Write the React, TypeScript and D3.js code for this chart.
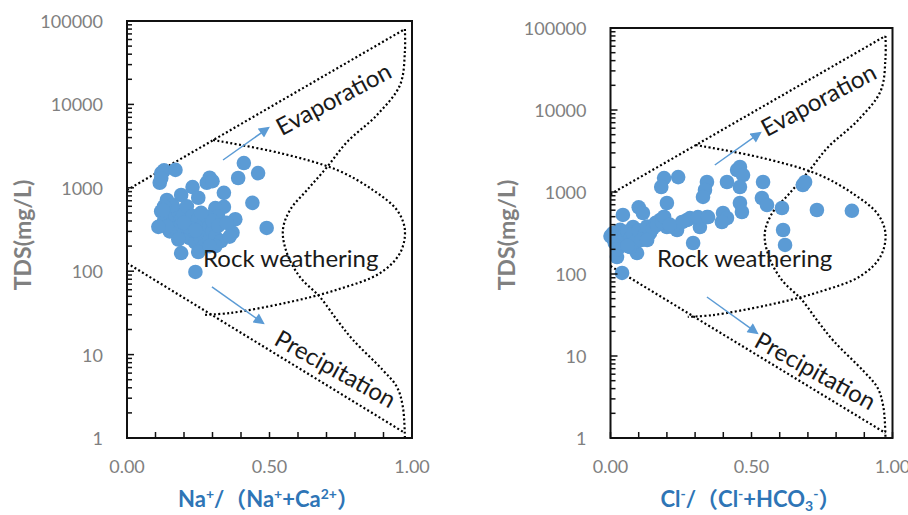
import * as d3 from "d3";

const W = 908;
const H = 515;

// Na+/(Na+ + Ca2+) panel samples
const naRatio = [
  0.12, 0.13, 0.17, 0.115, 0.12, 0.23, 0.29, 0.28, 0.3, 0.41, 0.46, 0.39, 0.34, 0.25,
  0.19, 0.14, 0.44, 0.49, 0.38, 0.37, 0.34, 0.31, 0.32, 0.12, 0.13, 0.12, 0.14, 0.15,
  0.16, 0.17, 0.17, 0.18, 0.18, 0.19, 0.19, 0.2, 0.2, 0.21, 0.21, 0.22, 0.22, 0.23,
  0.23, 0.24, 0.24, 0.25, 0.25, 0.26, 0.26, 0.27, 0.27, 0.28, 0.28, 0.29, 0.29, 0.3,
  0.3, 0.31, 0.32, 0.33, 0.31, 0.15, 0.16, 0.14, 0.13, 0.18, 0.22, 0.26, 0.2, 0.24,
  0.35, 0.36, 0.19, 0.25, 0.24, 0.29, 0.11, 0.126,
];
const naTds = [
  1500, 1620, 1640, 1150, 1300, 1020, 1320, 1150, 1200, 1980, 1500, 1310, 870, 760,
  820, 715, 660, 330, 420, 290, 590, 570, 450, 520, 400, 350, 450, 560,
  380, 330, 470, 300, 520, 420, 360, 280, 480, 340, 600, 400, 250, 310,
  460, 370, 220, 280, 420, 330, 240, 380, 200, 290, 450, 350, 240, 300,
  400, 260, 350, 230, 200, 300, 620, 340, 600, 240, 330, 500, 380, 310,
  380, 260, 165, 170, 98, 200, 340, 540,
];

// Cl-/(Cl- + HCO3-) panel samples
const clRatio = [
  0.19, 0.24, 0.18, 0.2, 0.1, 0.115, 0.044, 0.009, 0.034, 0.08, 0.105, 0.14, 0.176, 0.2,
  0.236, 0.271, 0.282, 0.342, 0.317, 0.293, 0.342, 0.335, 0.328, 0.413, 0.449, 0.459, 0.47,
  0.459, 0.459, 0.466, 0.399, 0.413, 0.395, 0.541, 0.537, 0.555, 0.608, 0.612, 0.619, 0.682,
  0.69, 0.732, 0.856, 0.023, 0.041, 0.094, 0.069, 0.005, 0.01, 0.015, 0.02, 0.03, 0.04,
  0.05, 0.06, 0.07, 0.08, 0.09, 0.1, 0.12, 0.13, 0.15, 0.16, 0.165, 0.183, 0.222, 0.254,
  0.31, 0.346, 0.0, 0.025, 0.11, 0.06, 0.19, 0.13, 0.21,
];
const clTds = [
  1480, 1520, 1150, 735, 650, 555, 525, 315, 345, 375, 283, 315, 456, 374,
  344, 456, 480, 495, 374, 239, 1324, 1057, 870, 1324, 1855, 2018, 1610,
  1150, 735, 570, 554, 482, 431, 1324, 845, 694, 638, 344, 226, 1217,
  1324, 603, 590, 161, 103, 180, 213, 300, 270, 240, 320, 280, 250,
  300, 330, 270, 310, 250, 340, 300, 380, 360, 420, 396, 430, 374, 431,
  495, 495, 290, 200, 260, 220, 500, 260, 400,
];

// Gibbs boundaries as [ratio, TDS]
const upperEdge = [[0, 940], [0.975, 80000]];
const lowerEdge = [[0, 125], [0.975, 1.15]];
const outerCurve = [
  [0.975, 80000], [0.975, 42500], [0.958, 17100], [0.877, 7460], [0.772, 3540],
  [0.702, 1775], [0.632, 941], [0.572, 542], [0.547, 312], [0.561, 165], [0.607, 85],
  [0.677, 49], [0.737, 26], [0.793, 15], [0.898, 6.5], [0.947, 4.1], [0.968, 2.35],
  [0.975, 1.03],
];
const innerCurve = [
  [0.302, 3740], [0.537, 2610], [0.737, 1635], [0.863, 940], [0.947, 542], [0.975, 312],
  [0.958, 165], [0.888, 95], [0.737, 60], [0.561, 42], [0.361, 31.5], [0.274, 30],
];

const yTicks = [1, 10, 100, 1000, 10000, 100000];
const xTicks = [0, 0.5, 1];

const BLUE = "#5b9bd5";
const GRAY = "#808080";
const FONT = "Lato, 'Noto Sans CJK SC', sans-serif";

type PanelProps = {
  ml: number;
  mr: number;
  mt: number;
  xs: number[];
  ys: number[];
  evapArrow: number[][];
  precArrow: number[][];
  evapAt: number[];
  rockAt: number[];
  precAt: number[];
  title: React.ReactNode;
};

function Panel({ ml, mr, mt, xs, ys, evapArrow, precArrow, evapAt, rockAt, precAt, title }: PanelProps) {
  const mb = 438;
  const x = d3.scaleLinear().domain([0, 1]).range([ml, mr]);
  const y = d3.scaleLog().domain([1, 100000]).range([mb, mt]);
  const line = d3.line<number[]>().x((d) => x(d[0])).y((d) => y(d[1]));
  const smooth = d3
    .line<number[]>()
    .x((d) => x(d[0]))
    .y((d) => y(d[1]))
    .curve(d3.curveCatmullRom.alpha(0.5));
  const minor: number[] = [];
  for (let e = 0; e < 5; e++) for (let k = 2; k < 10; k++) minor.push(k * 10 ** e);
  const fmt = d3.format(".2f");
  const dots = { fill: "none", stroke: "#000", strokeWidth: 2.2, strokeDasharray: "2 2.4" };

  return (
    <g fontFamily={FONT}>
      <path d={line(upperEdge) ?? ""} {...dots} />
      <path d={line(lowerEdge) ?? ""} {...dots} />
      <path d={smooth(outerCurve) ?? ""} {...dots} />
      <path d={smooth(innerCurve) ?? ""} {...dots} />

      {xs.map((v, i) => (
        <circle key={i} cx={x(v)} cy={y(ys[i])} r={7.3} fill={BLUE} />
      ))}

      <line x1={x(evapArrow[0][0])} y1={y(evapArrow[0][1])} x2={x(evapArrow[1][0])} y2={y(evapArrow[1][1])}
        stroke={BLUE} strokeWidth={1.5} markerEnd="url(#ah)" />
      <line x1={x(precArrow[0][0])} y1={y(precArrow[0][1])} x2={x(precArrow[1][0])} y2={y(precArrow[1][1])}
        stroke={BLUE} strokeWidth={1.5} markerEnd="url(#ah)" />

      <g fontSize={24} fill="#1a1a1a">
        <text transform={`translate(${x(evapAt[0])},${y(evapAt[1])}) rotate(-28)`} textAnchor="middle" dominantBaseline="central">
          Evaporation
        </text>
        <text x={x(rockAt[0])} y={y(rockAt[1])}>Rock weathering</text>
        <text transform={`translate(${x(precAt[0])},${y(precAt[1])}) rotate(29)`} textAnchor="middle" dominantBaseline="central">
          Precipitation
        </text>
      </g>

      <rect x={ml} y={mt} width={mr - ml} height={mb - mt} fill="none" stroke="#111" strokeWidth={2} />
      <g stroke="#111" strokeWidth={1.5}>
        {d3.range(0, 1.0001, 0.1).map((t, i) => (
          <line key={i} x1={x(t)} x2={x(t)} y1={mb} y2={mb - 6} />
        ))}
        {yTicks.map((t) => (
          <line key={t} x1={ml} x2={ml + 7} y1={y(t)} y2={y(t)} />
        ))}
        {minor.map((t) => (
          <line key={t} x1={ml} x2={ml + 5} y1={y(t)} y2={y(t)} />
        ))}
      </g>

      <g fill={GRAY} fontSize={18}>
        {yTicks.map((t) => (
          <text key={t} x={ml - 24} y={y(t)} textAnchor="end" dominantBaseline="central">
            {t}
          </text>
        ))}
        {xTicks.map((t) => (
          <text key={t} x={x(t)} y={473} textAnchor="middle">
            {fmt(t)}
          </text>
        ))}
      </g>

      <text transform={`translate(${ml - 105},235) rotate(-90)`} textAnchor="middle" dominantBaseline="central"
        fontSize={23} fontWeight="bold" fill={GRAY}>
        TDS(mg/L)
      </text>
      <text x={(ml + mr) / 2 - 1} y={507} textAnchor="middle" fontSize={22} fontWeight="bold" fill="#2e75b6">
        {title}
      </text>
    </g>
  );
}

export default function App() {
  return (
    <svg width={W} height={H} style={{ position: "absolute", left: 0, top: 0, background: "#fff" }}>
      <defs>
        <marker id="ah" viewBox="0 0 10 10" refX={8} refY={5} markerWidth={12} markerHeight={11}
          markerUnits="userSpaceOnUse" orient="auto">
          <path d="M0,0 L10,5 L0,10 z" fill={BLUE} />
        </marker>
      </defs>
      <Panel
        ml={127} mr={412} mt={21}
        xs={naRatio} ys={naTds}
        evapArrow={[[0.337, 2155], [0.495, 5210]]}
        precArrow={[[0.298, 64.7], [0.477, 23.9]]}
        evapAt={[0.723, 11900]}
        rockAt={[0.267, 112]}
        precAt={[0.733, 6.9]}
        title={
          <>
            <tspan>Na</tspan>
            <tspan dy={-8} fontSize={14}>+</tspan>
            <tspan dy={8}>/（Na</tspan>
            <tspan dy={-8} fontSize={14}>+</tspan>
            <tspan dy={8}>+Ca</tspan>
            <tspan dy={-8} fontSize={14}>2+</tspan>
            <tspan dy={8}>）</tspan>
          </>
        }
      />
      <Panel
        ml={610.5} mr={892.5} mt={28}
        xs={clRatio} ys={clTds}
        evapArrow={[[0.37, 2135], [0.53, 5245]]}
        precArrow={[[0.342, 52.4], [0.519, 19.1]]}
        evapAt={[0.736, 13600]}
        rockAt={[0.165, 122]}
        precAt={[0.728, 6.75]}
        title={
          <>
            <tspan>Cl</tspan>
            <tspan dy={-8} fontSize={14}>-</tspan>
            <tspan dy={8}>/（Cl</tspan>
            <tspan dy={-8} fontSize={14}>-</tspan>
            <tspan dy={8}>+HCO</tspan>
            <tspan dy={4} fontSize={14}>3</tspan>
            <tspan dy={-12} fontSize={14}>-</tspan>
            <tspan dy={8}>）</tspan>
          </>
        }
      />
    </svg>
  );
}
